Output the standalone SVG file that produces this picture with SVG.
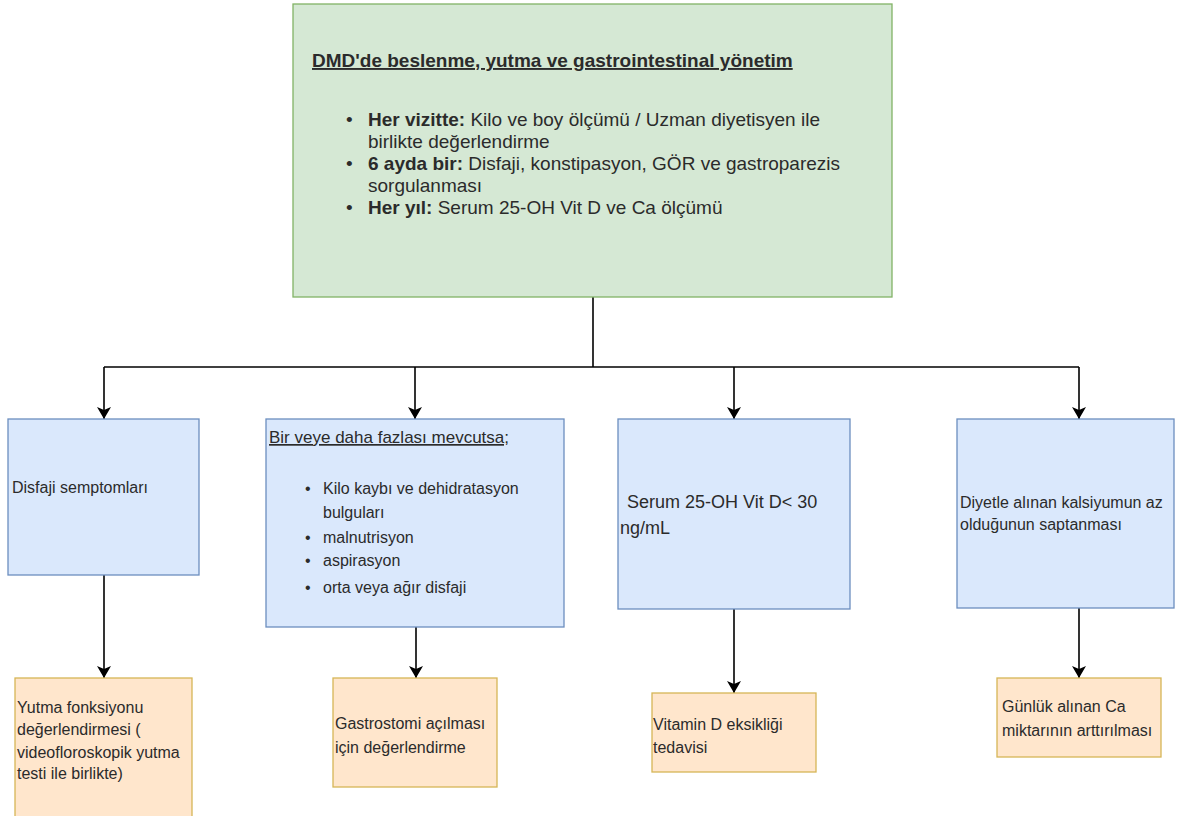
<svg xmlns="http://www.w3.org/2000/svg" width="1179" height="816" viewBox="0 0 1179 816">
<style>
.t{font-family:"Liberation Sans",Arial,sans-serif;fill:#2b2b2b}
.g{fill:#d5e8d4;stroke:#82b366;stroke-width:1.3}
.b{fill:#dae8fc;stroke:#6c8ebf;stroke-width:1.3}
.o{fill:#ffe6cc;stroke:#d6b656;stroke-width:1.3}
.c{fill:none;stroke:#000;stroke-width:1.6}
.a{marker-end:url(#ah)}
.f19{font-size:19px}.f18{font-size:18px}.f17{font-size:17px}.f16{font-size:16px}
.bd{font-weight:bold}
</style>
<defs>
<marker id="ah" markerUnits="userSpaceOnUse" markerWidth="12" markerHeight="14" viewBox="0 0 12 14" refX="12" refY="7" orient="auto">
<path d="M0,0 L12,7 L0,14 L3,7 z" fill="#000"/>
</marker>
</defs>
<rect width="1179" height="816" fill="#fff"/>
<g id="connectors">
<path class="c" d="M593,297 V367"/>
<path class="c" d="M104,367 H1079"/>
<path class="c a" d="M104,367 V419"/>
<path class="c a" d="M415,367 V419"/>
<path class="c a" d="M734,367 V419"/>
<path class="c a" d="M1079,367 V419"/>
<path class="c a" d="M104,575 V678"/>
<path class="c a" d="M416,627 V678"/>
<path class="c a" d="M734,609 V693"/>
<path class="c a" d="M1079,608 V678"/>
</g>
<g id="node-main">
<rect class="g" x="293" y="4" width="599" height="293"/>
<text class="t f19 bd" x="312" y="67" text-decoration="underline">DMD'de beslenme, yutma ve gastrointestinal yönetim</text>
<text class="t f19" x="346" y="126">•</text>
<text class="t f19" x="368" y="126"><tspan class="bd">Her vizitte:</tspan> Kilo ve boy ölçümü / Uzman diyetisyen ile</text>
<text class="t f19" x="368" y="148">birlikte değerlendirme</text>
<text class="t f19" x="346" y="170">•</text>
<text class="t f19" x="368" y="170"><tspan class="bd">6 ayda bir:</tspan> Disfaji, konstipasyon, GÖR ve gastroparezis</text>
<text class="t f19" x="368" y="192">sorgulanması</text>
<text class="t f19" x="346" y="214">•</text>
<text class="t f19" x="368" y="214"><tspan class="bd">Her yıl:</tspan> Serum 25-OH Vit D ve Ca ölçümü</text>
</g>
<g id="node-disfaji">
<rect class="b" x="8" y="419" width="191" height="156"/>
<text class="t f16" x="12" y="493">Disfaji semptomları</text>
</g>
<g id="node-birveye">
<rect class="b" x="266" y="419" width="298" height="208"/>
<text class="t f17" x="269" y="443" text-decoration="underline">Bir veye daha fazlası mevcutsa;</text>
<text class="t f16" x="305" y="494">•</text>
<text class="t f16" x="323" y="494">Kilo kaybı ve dehidratasyon</text>
<text class="t f16" x="323" y="518">bulguları</text>
<text class="t f16" x="305" y="543">•</text>
<text class="t f16" x="323" y="543">malnutrisyon</text>
<text class="t f16" x="305" y="566">•</text>
<text class="t f16" x="323" y="566">aspirasyon</text>
<text class="t f16" x="305" y="593">•</text>
<text class="t f16" x="323" y="593">orta veya ağır disfaji</text>
</g>
<g id="node-vitd">
<rect class="b" x="618" y="419" width="232" height="190"/>
<text class="t f18" x="627" y="508">Serum 25-OH Vit D&lt; 30</text>
<text class="t f18" x="620" y="534">ng/mL</text>
</g>
<g id="node-kalsiyum">
<rect class="b" x="957" y="419" width="217" height="189"/>
<text class="t f16" x="960" y="508">Diyetle alınan kalsiyumun az</text>
<text class="t f16" x="960" y="530">olduğunun saptanması</text>
</g>
<g id="node-yutma">
<rect class="o" x="15" y="678" width="177" height="142"/>
<text class="t f16" x="17" y="713">Yutma fonksiyonu</text>
<text class="t f16" x="17" y="735">değerlendirmesi (</text>
<text class="t f16" x="17" y="758">videofloroskopik yutma</text>
<text class="t f16" x="17" y="779">testi ile birlikte)</text>
</g>
<g id="node-gastrostomi">
<rect class="o" x="333" y="678" width="164" height="109"/>
<text class="t f16" x="335" y="729">Gastrostomi açılması</text>
<text class="t f16" x="335" y="753">için değerlendirme</text>
</g>
<g id="node-vitd-tedavi">
<rect class="o" x="652" y="693" width="164" height="79"/>
<text class="t f16" x="653" y="730">Vitamin D eksikliği</text>
<text class="t f16" x="653" y="753">tedavisi</text>
</g>
<g id="node-ca">
<rect class="o" x="997" y="678" width="164" height="79"/>
<text class="t f16" x="1002" y="712">Günlük alınan Ca</text>
<text class="t f16" x="1002" y="736">miktarının arttırılması</text>
</g>
</svg>
